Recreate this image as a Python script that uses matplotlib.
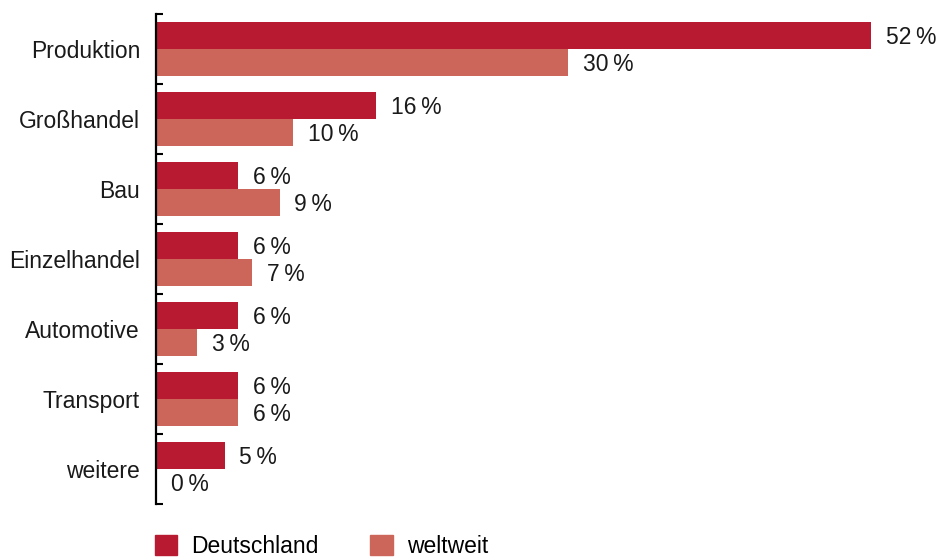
import matplotlib
matplotlib.use("Agg")
import matplotlib.pyplot as plt
import numpy as np
from matplotlib.patches import Patch

plt.rcParams['font.family'] = ['Liberation Sans', 'DejaVu Sans']

categories = ["Produktion", "Großhandel", "Bau", "Einzelhandel", "Automotive", "Transport", "weitere"]
deutschland = [52, 16, 6, 6, 6, 6, 5]
weltweit = [30, 10, 9, 7, 3, 6, 0]
series_names = ["Deutschland", "weltweit"]
colors = ["#B81B31", "#CC655A"]

W, H = 937, 557
fig = plt.figure(figsize=(W / 100, H / 100), dpi=100)
left, right, top, bottom = 156, 926, 14, 504
ax = fig.add_axes([left / W, 1 - bottom / H, (right - left) / W, (bottom - top) / H])

y = np.arange(len(categories))
h = 0.385
off = 0.19
b1 = ax.barh(y - off, deutschland, height=h, color=colors[0])
b2 = ax.barh(y + off, weltweit, height=h, color=colors[1])

fs = 16.5
for bars, vals in ((b1, deutschland), (b2, weltweit)):
    for rect, v in zip(bars, vals):
        ax.annotate(f"{v}\u2009%", xy=(rect.get_width(), rect.get_y() + rect.get_height() / 2),
                    xytext=(10.5, -1.5), textcoords="offset points", va="center", ha="left",
                    fontsize=fs, color="#1a1a1a", annotation_clip=False)

ax.set_xlim(0, (right - left) / 13.75)
ax.set_ylim(len(categories) - 0.5, -0.5)
ax.set_yticks(y)
ax.set_yticklabels(categories, fontsize=fs, color="#1a1a1a")
ax.tick_params(axis='y', which='major', length=0, pad=11.5)
ax.set_yticks(np.arange(len(categories) + 1) - 0.5, minor=True)
ax.tick_params(axis='y', which='minor', length=5, width=1.5, direction='in', color='black')
ax.set_xticks([])
for s in ("top", "right", "bottom"):
    ax.spines[s].set_visible(False)
ax.spines["left"].set_linewidth(1.6)
ax.spines["left"].set_color("black")

handles = [Patch(color=c) for c in colors]
fig.legend(handles, series_names, loc="upper left",
           bbox_to_anchor=(150 / W, 1 - 530 / H), frameon=False, ncol=2,
           fontsize=fs, handlelength=1.0, handleheight=1.0, handletextpad=0.6,
           columnspacing=2.25, borderaxespad=0, borderpad=0.2)

fig.savefig("out.png", dpi=100)
